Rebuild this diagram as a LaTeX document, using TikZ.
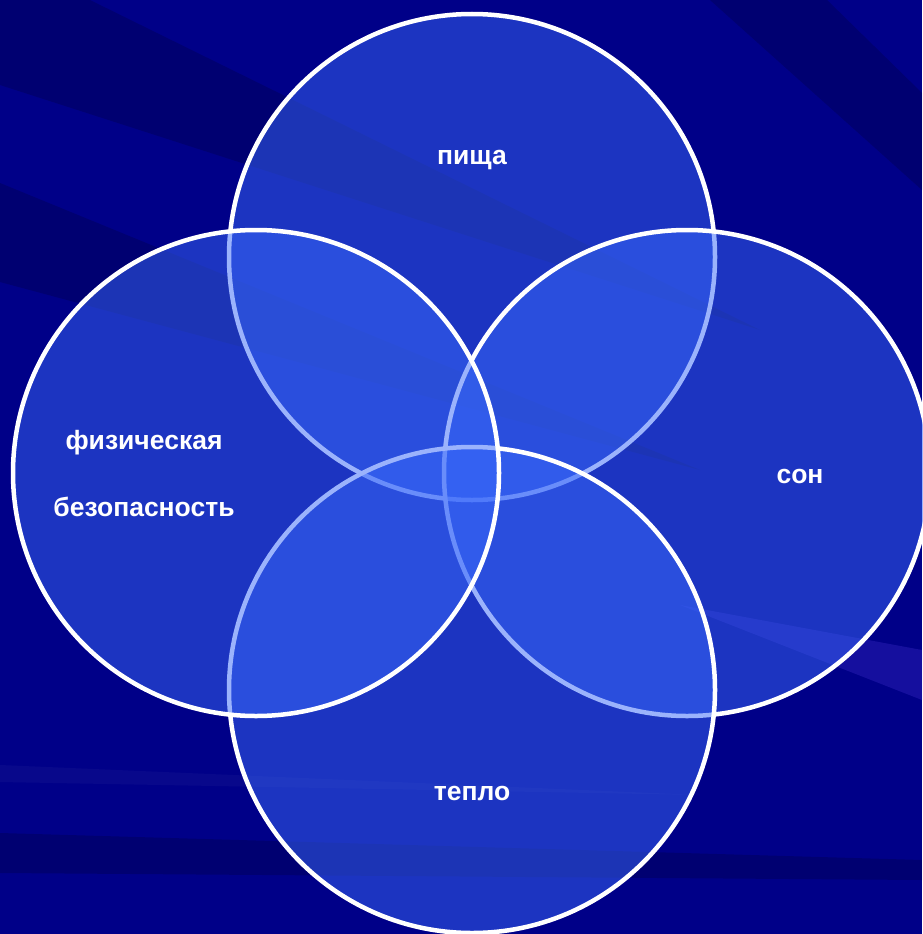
\documentclass[tikz,border=0pt]{standalone}
\usepackage{fontspec}
\setmainfont{Liberation Sans}
\usetikzlibrary{positioning}

\definecolor{navy}{RGB}{0,0,136}
\definecolor{ringblue}{RGB}{56,104,250}
\definecolor{streak}{RGB}{70,50,210}

\begin{document}
\begin{tikzpicture}[
  x=1pt, y=-1pt,
  font=\fontsize{26.5}{32}\selectfont\bfseries,
  ring/.style={circle, draw=white, line width=4.5pt, fill=ringblue, fill opacity=0.5, minimum size=486pt, inner sep=0pt},
  lbl/.style={text=white, align=center},
  shade/.style={fill=black, opacity=0.17}
]
% background with streaks
\fill[navy] (0,0) rectangle (922,934);
\fill[shade] (0,0) -- (90,0) -- (760,330) -- (0,85) -- cycle;
\fill[shade] (0,183) -- (700,470) -- (0,282) -- cycle;
\fill[shade] (710,0) -- (827,0) -- (922,93) -- (922,190) -- cycle;
\fill[shade] (0,833) -- (922,860) -- (922,880) -- (0,873) -- cycle;
\fill[white, opacity=0.03] (0,765) -- (700,795) -- (0,782) -- cycle;
\fill[streak, opacity=0.3] (680,605) -- (922,650) -- (922,700) -- cycle;
\useasboundingbox (0,0) rectangle (922,934);

% four circles
\node[ring] (food)  at (472,257) {};
\node[ring] (sleep) at (687,473) {};
\node[ring] (warm)  at (472,690) {};
\node[ring] (safe)  at (256,473) {};

% labels
\node[lbl] (foodtxt)  at (472,160) {пища};
\node[lbl] (sleeptxt) at (800,476) {сон};
\node[lbl] (warmtxt)  at (472,793) {тепло};
\node[lbl] (safetxt1) at (144,443) {физическая};
\node[lbl] (safetxt2) at (144,507) {безопасность};
\end{tikzpicture}
\end{document}
